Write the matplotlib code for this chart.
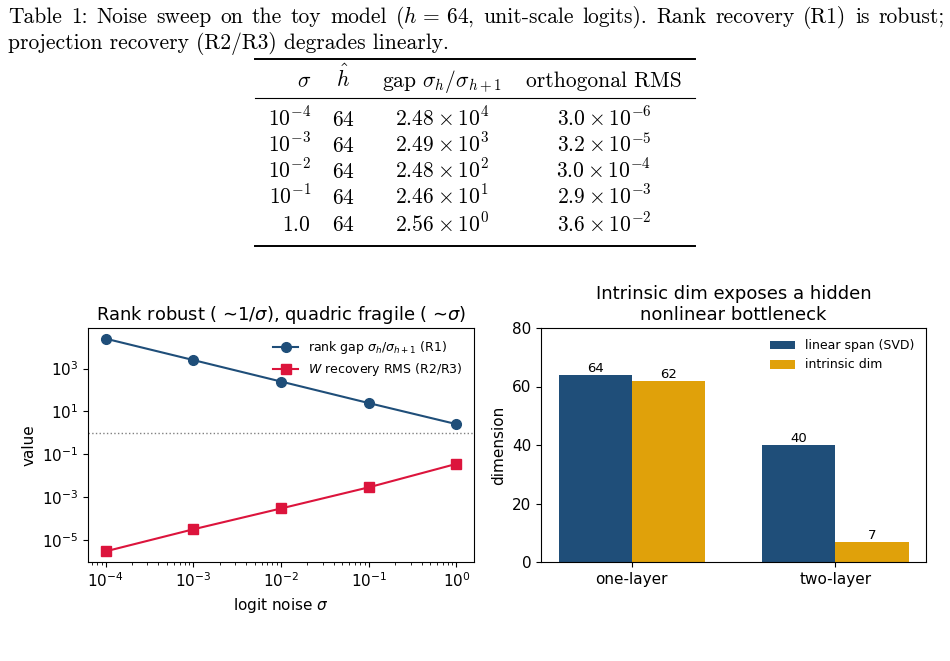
import matplotlib
matplotlib.use("Agg")
import matplotlib.pyplot as plt
import numpy as np

# noise sweep data (table + left panel)
sigma = [1e-4, 1e-3, 1e-2, 1e-1, 1.0]
sigma_labels = ["$10^{-4}$", "$10^{-3}$", "$10^{-2}$", "$10^{-1}$", "$1.0$"]
h_hat = [64, 64, 64, 64, 64]
gap = [2.48e4, 2.49e3, 2.48e2, 2.46e1, 2.56e0]
gap_labels = [r"$2.48\times10^{4}$", r"$2.49\times10^{3}$", r"$2.48\times10^{2}$",
              r"$2.46\times10^{1}$", r"$2.56\times10^{0}$"]
rms = [3.0e-6, 3.2e-5, 3.0e-4, 2.9e-3, 3.6e-2]
rms_labels = [r"$3.0\times10^{-6}$", r"$3.2\times10^{-5}$", r"$3.0\times10^{-4}$",
              r"$2.9\times10^{-3}$", r"$3.6\times10^{-2}$"]

# intrinsic dimension data (right panel)
models = ["one-layer", "two-layer"]
linear_span = [64, 40]
intrinsic = [62, 7]

caption_line1 = ["Table", "1:", "Noise", "sweep", "on", "the", "toy", "model", r"($h\,=\,64$,",
                 "unit-scale", "logits).", "Rank", "recovery", "(R1)", "is", "robust;"]
caption_line2 = "projection recovery (R2/R3) degrades linearly."

NAVY = "#1f4e79"
RED = "#dc143c"
GOLD = "#e0a10a"

W, H = 950, 661
fig = plt.figure(figsize=(W / 100, H / 100), dpi=100)


def fx(px):
    return px / W


def fy(py):
    return 1 - py / H


serif = dict(family="cmr10", math_fontfamily="cm", fontsize=15.5)

# first caption line is justified (LaTeX style): spread words between x=8 and x=945
renderer = fig.canvas.get_renderer()
words = [fig.text(0, fy(23), wd, va="baseline", **serif) for wd in caption_line1]
widths = [t.get_window_extent(renderer).width for t in words]
gap_px = (945 - 8 - sum(widths)) / (len(words) - 1)
xpos = 8
for t, wd in zip(words, widths):
    t.set_x(fx(xpos))
    xpos += wd + gap_px
fig.text(fx(8), fy(49), caption_line2, va="baseline", **serif)

# table rules
x0, x1 = fx(255), fx(695)
fig.add_artist(plt.Line2D([x0, x1], [fy(59), fy(59)], color="black", lw=1.4))
fig.add_artist(plt.Line2D([x0, x1], [fy(98), fy(98)], color="black", lw=0.8))
fig.add_artist(plt.Line2D([x0, x1], [fy(246), fy(246)], color="black", lw=1.4))

col_x = [fx(311), fx(343), fx(442), fx(604)]
col_ha = ["right", "center", "center", "center"]
headers = [r"$\sigma$", r"$\hat{h}$", r"gap $\sigma_h/\sigma_{h+1}$", "orthogonal RMS"]
for cx, ha, txt in zip(col_x, col_ha, headers):
    fig.text(cx, fy(87), txt, ha=ha, va="baseline", **serif)

row_base = [126, 152, 178, 204, 231]
for i, ry in enumerate(row_base):
    cells = [sigma_labels[i], f"${h_hat[i]}$", gap_labels[i], rms_labels[i]]
    for cx, ha, txt in zip(col_x, col_ha, cells):
        fig.text(cx, fy(ry), txt, ha=ha, va="baseline", **serif)

# left panel: noise sweep
ax1 = fig.add_axes([fx(88), fy(562), fx(474 - 88), (562 - 328) / H])
ax1.plot(sigma, gap, "o-", color=NAVY, lw=1.5, ms=7,
         label=r"rank gap $\sigma_h/\sigma_{h+1}$ (R1)")
ax1.plot(sigma, rms, "s-", color=RED, lw=1.5, ms=7,
         label=r"$W$ recovery RMS (R2/R3)")
ax1.axhline(1.0, color="grey", ls=":", lw=1)
ax1.set_xscale("log")
ax1.set_yscale("log")
ax1.set_xlabel(r"logit noise $\sigma$", fontsize=11)
ax1.set_ylabel("value", fontsize=11)
ax1.set_title("Rank robust ( \u223c1/$\\sigma$), quadric fragile ( \u223c$\\sigma$)", fontsize=12.9)
ax1.tick_params(labelsize=11)
ax1.legend(loc="upper right", frameon=False, fontsize=9, labelspacing=0.4)

# right panel: intrinsic dimension
ax2 = fig.add_axes([fx(541), fy(562), fx(926 - 541), (562 - 328) / H])
x = np.arange(len(models))
w = 0.36
b1 = ax2.bar(x - w / 2, linear_span, w, color=NAVY, label="linear span (SVD)")
b2 = ax2.bar(x + w / 2, intrinsic, w, color=GOLD, label="intrinsic dim")
ax2.bar_label(b1, fontsize=9.5)
ax2.bar_label(b2, fontsize=9.5)
ax2.set_xticks(x)
ax2.set_xticklabels(models)
ax2.set_ylim(0, 80)
ax2.set_ylabel("dimension", fontsize=11)
ax2.set_title("Intrinsic dim exposes a hidden\nnonlinear bottleneck", fontsize=13)
ax2.tick_params(labelsize=11)
ax2.legend(loc="upper right", frameon=False, fontsize=9)

fig.savefig("out.png", dpi=100)
